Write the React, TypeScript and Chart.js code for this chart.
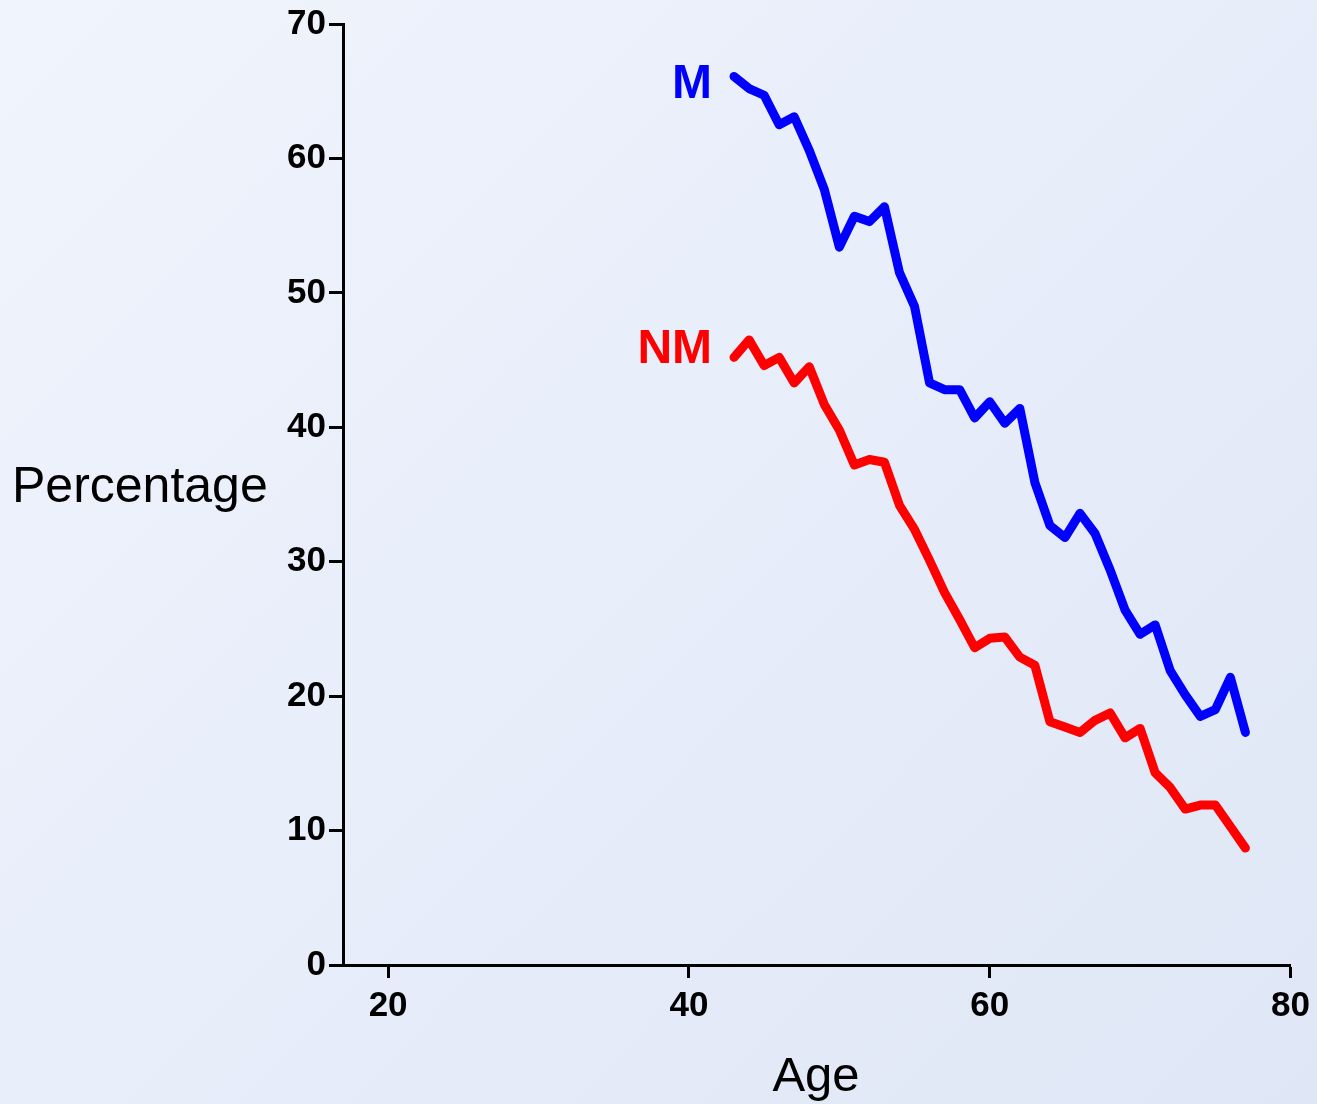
import React, { useEffect, useRef } from "react";
import { Chart, registerables } from "chart.js";

Chart.register(...registerables);

const ages = [43, 44, 45, 46, 47, 48, 49, 50, 51, 52, 53, 54, 55, 56, 57, 58, 59, 60, 61, 62, 63, 64, 65, 66, 67, 68, 69, 70, 71, 72, 73, 74, 75, 76, 77];
const mValues = [66.1, 65.2, 64.7, 62.5, 63.1, 60.6, 57.7, 53.4, 55.7, 55.3, 56.4, 51.5, 49.0, 43.3, 42.8, 42.8, 40.7, 41.9, 40.3, 41.4, 35.9, 32.7, 31.8, 33.6, 32.1, 29.4, 26.4, 24.6, 25.3, 21.9, 20.1, 18.5, 19.0, 21.4, 17.3];
const nmValues = [45.2, 46.5, 44.6, 45.2, 43.3, 44.5, 41.7, 39.8, 37.2, 37.6, 37.4, 34.2, 32.4, 30.1, 27.7, 25.7, 23.6, 24.3, 24.4, 22.9, 22.3, 18.1, 17.7, 17.3, 18.2, 18.75, 16.9, 17.6, 14.3, 13.2, 11.6, 11.9, 11.9, 10.3, 8.7];
const xTicks = [20, 40, 60, 80];
const yTicks = [0, 10, 20, 30, 40, 50, 60, 70];
const seriesNames = ["M", "NM"];
const xTitle = "Age";
const yTitle = "Percentage";

const FONT = "'Liberation Sans', Arial, sans-serif";

const labelsPlugin = {
  id: "customLabels",
  afterDraw(chart: any) {
    const ctx = chart.ctx;
    const xs = chart.scales.x;
    const ys = chart.scales.y;
    ctx.save();
    ctx.textAlign = "right";
    ctx.textBaseline = "middle";
    ctx.font = `bold 48px ${FONT}`;
    const x0 = xs.getPixelForValue(ages[0]) - 22;
    ctx.fillStyle = "#0000ff";
    ctx.fillText(seriesNames[0], x0, ys.getPixelForValue(mValues[0]) + 8);
    ctx.fillStyle = "#ff0000";
    ctx.fillText(seriesNames[1], x0, ys.getPixelForValue(nmValues[0]) - 8);

    ctx.fillStyle = "#000";
    ctx.font = `50px ${FONT}`;
    ctx.textAlign = "left";
    ctx.fillText(yTitle, 12, (ys.top + ys.bottom) / 2 - 6);
    ctx.font = `49px ${FONT}`;
    ctx.textAlign = "center";
    ctx.fillText(xTitle, 816, 1077);
    ctx.restore();
  },
};

export default function App() {
  const ref = useRef<HTMLCanvasElement>(null);
  useEffect(() => {
    document.body.style.margin = "0";
    const chart = new Chart(ref.current!, {
      type: "line",
      data: {
        datasets: [
          {
            label: seriesNames[0],
            data: ages.map((a, i) => ({ x: a, y: mValues[i] })),
            borderColor: "#0000ff",
            borderWidth: 9,
            pointRadius: 0,
            borderCapStyle: "round",
            borderJoinStyle: "round",
            tension: 0,
          },
          {
            label: seriesNames[1],
            data: ages.map((a, i) => ({ x: a, y: nmValues[i] })),
            borderColor: "#ff0000",
            borderWidth: 9,
            pointRadius: 0,
            borderCapStyle: "round",
            borderJoinStyle: "round",
            tension: 0,
          },
        ],
      },
      options: {
        animation: false,
        responsive: false,
        layout: { padding: { left: 0, right: 26, top: 24, bottom: 0 } },
        plugins: { legend: { display: false }, tooltip: { enabled: false } },
        scales: {
          x: {
            type: "linear",
            min: 17,
            max: 80,
            afterFit: (s: any) => {
              s.height = 139;
            },
            afterBuildTicks: (s: any) => {
              s.ticks = xTicks.map((v) => ({ value: v }));
            },
            border: { display: true, color: "#000", width: 3 },
            grid: { display: true, drawOnChartArea: false, drawTicks: true, tickLength: 13, tickWidth: 3, tickColor: "#000" },
            ticks: { color: "#000", font: { family: FONT, size: 35, weight: "bold" }, padding: 7, maxRotation: 0 },
          },
          y: {
            type: "linear",
            min: 0,
            max: 70,
            afterFit: (s: any) => {
              s.width = 343;
            },
            afterBuildTicks: (s: any) => {
              s.ticks = yTicks.map((v) => ({ value: v }));
            },
            border: { display: true, color: "#000", width: 3 },
            grid: { display: true, drawOnChartArea: false, drawTicks: true, tickLength: 14, tickWidth: 3, tickColor: "#000" },
            ticks: { color: "#000", font: { family: FONT, size: 35, weight: "bold" }, padding: 3 },
          },
        },
      },
      plugins: [labelsPlugin],
    } as any);
    return () => chart.destroy();
  }, []);
  return (
    <div
      style={{
        position: "absolute",
        left: 0,
        top: 0,
        width: 1317,
        height: 1104,
        background: "linear-gradient(135deg, #f0f4fc 0%, #e8eefa 45%, #dfe6f5 100%)",
      }}
    >
      <canvas ref={ref} width={1317} height={1104} />
    </div>
  );
}
